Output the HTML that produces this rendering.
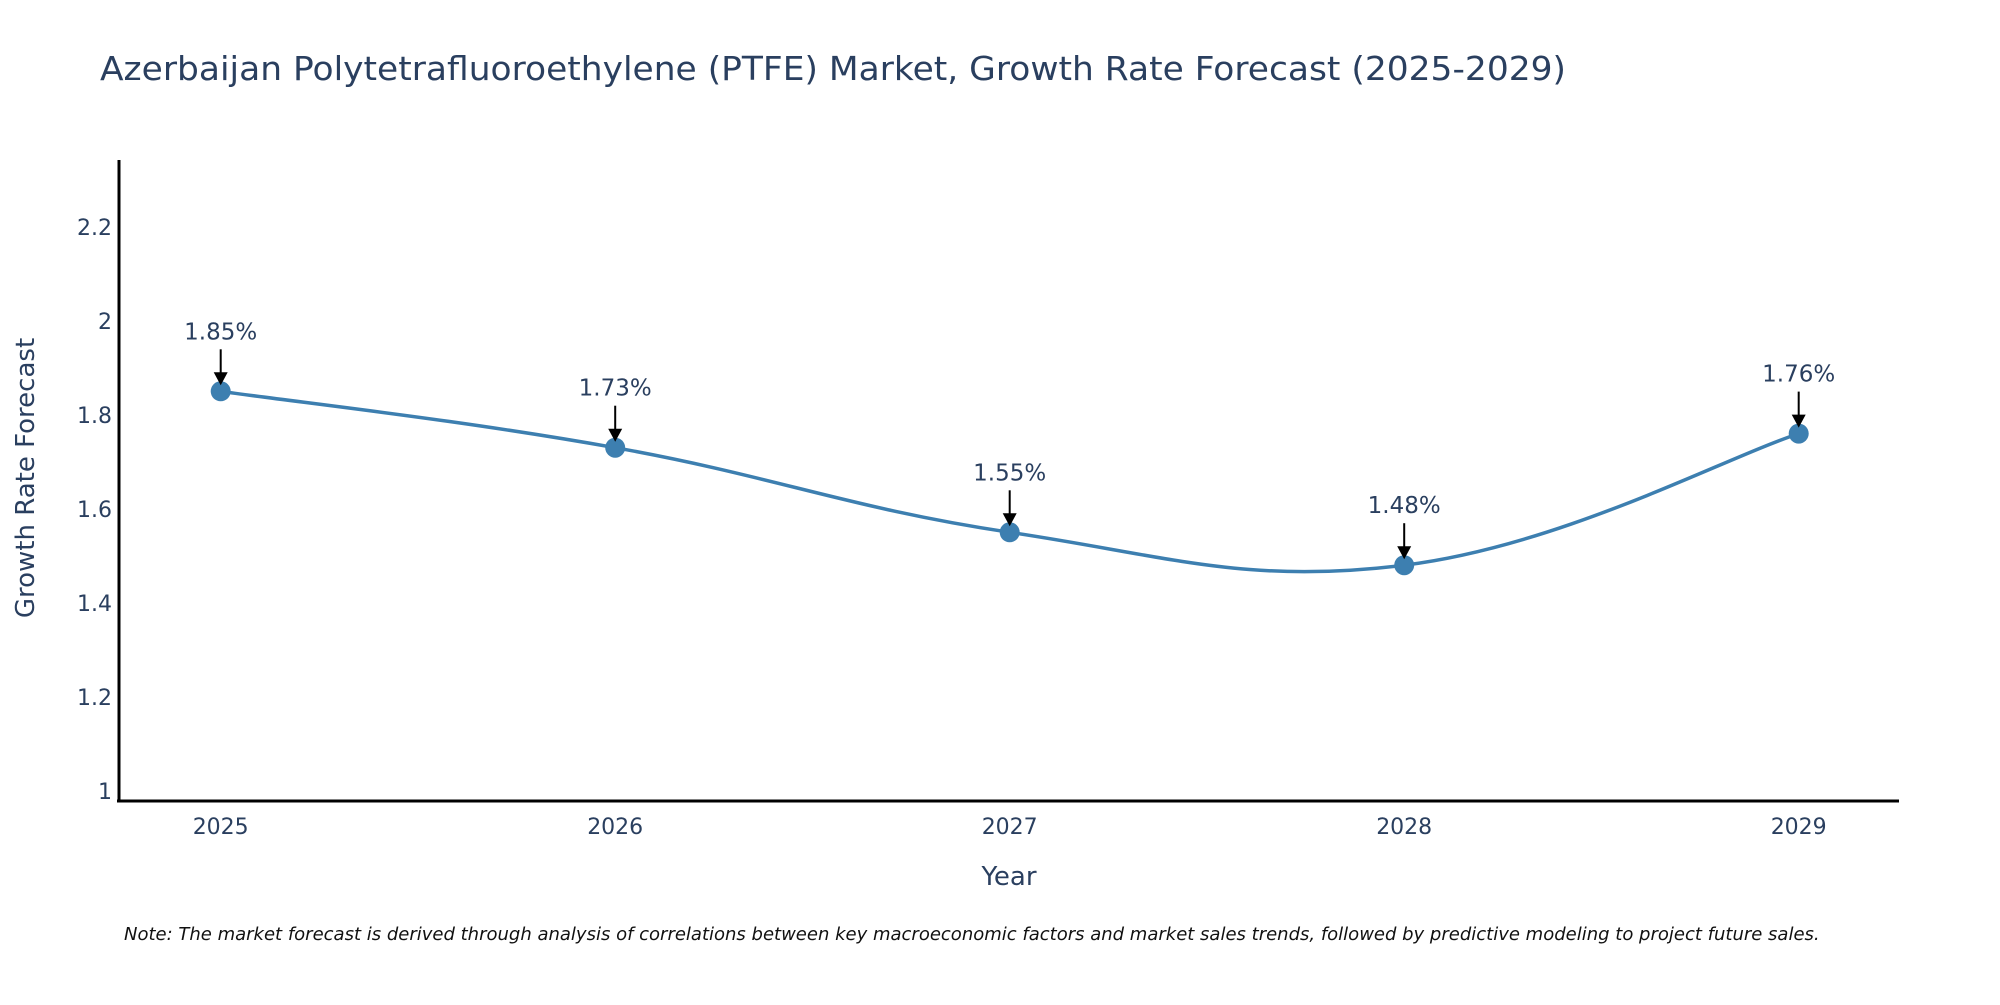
<!DOCTYPE html>
<html><head><meta charset="utf-8"><style>
body{margin:0;background:#fff;overflow:hidden}
svg text{font-family:"DejaVu Sans","Liberation Sans",sans-serif}
</style></head><body>
<svg id="chart" width="2000" height="1000" viewBox="0 0 2000 1000" xmlns="http://www.w3.org/2000/svg">
<rect width="2000" height="1000" fill="#fff"/>
<text x="100" y="80" font-size="33" fill="#2a3f5f" textLength="1466" lengthAdjust="spacingAndGlyphs">Azerbaijan Polytetrafluoroethylene (PTFE) Market, Growth Rate Forecast (2025-2029)</text>
<g id="yticks"></g>
<g id="xticks"></g>
<line x1="119" y1="160" x2="119" y2="802" stroke="#000" stroke-width="3"/>
<line x1="117" y1="801" x2="1899" y2="801" stroke="#000" stroke-width="3"/>
<text transform="translate(34,478) rotate(-90)" text-anchor="middle" font-size="26" fill="#2a3f5f">Growth Rate Forecast</text>
<text x="1009" y="885" text-anchor="middle" font-size="26" fill="#2a3f5f">Year</text>
<text x="124" y="940" font-size="18" font-style="italic" fill="#111">Note: The market forecast is derived through analysis of correlations between key macroeconomic factors and market sales trends, followed by predictive modeling to project future sales.</text>
<path id="line" fill="none" stroke="#3d7fb0" stroke-width="3.5"/>
<g id="marks"></g>
</svg>
<script>
const years=[2025,2026,2027,2028,2029];
const values=[1.85,1.73,1.55,1.48,1.76];
const labels=["1.85%","1.73%","1.55%","1.48%","1.76%"];
const yTicks=[1,1.2,1.4,1.6,1.8,2,2.2];
const NS="http://www.w3.org/2000/svg";
const xS=v=>220.7+(v-2025)*394.5;
const yS=v=>790.8-(v-1)*470;
function mk(t,a,p){const e=document.createElementNS(NS,t);for(const k in a)e.setAttribute(k,a[k]);(p||document.getElementById('chart')).appendChild(e);return e;}
const yt=document.getElementById('yticks');
yTicks.forEach(t=>{const e=mk('text',{x:112,y:yS(t)+8,'text-anchor':'end','font-size':22,fill:'#2a3f5f'},yt);


e.textContent=String(t);});
const xt=document.getElementById('xticks');
years.forEach(y=>{const e=mk('text',{x:xS(y),y:834,'text-anchor':'middle','font-size':22,fill:'#2a3f5f'},xt);


e.textContent=String(y);});
const P=years.map((y,i)=>[xS(y),yS(values[i])]);
let d=`M${P[0][0]},${P[0][1]}`;const s=0.2;
for(let i=0;i<P.length-1;i++){const p0=P[i-1]||P[i],p1=P[i],p2=P[i+1],p3=P[i+2]||p2;
d+=` C${p1[0]+(p2[0]-p0[0])*s},${p1[1]+(p2[1]-p0[1])*s} ${p2[0]-(p3[0]-p1[0])*s},${p2[1]-(p3[1]-p1[1])*s} ${p2[0]},${p2[1]}`;}
document.getElementById('line').setAttribute('d',d);
const g=document.getElementById('marks');
P.forEach((p,i)=>{const c=mk('circle',{cx:p[0],cy:p[1],r:10,fill:'#3d7fb0'},g);


const l=mk('line',{x1:p[0],y1:p[1]-42,x2:p[0],y2:p[1]-18,stroke:'#000','stroke-width':2},g);


const a=mk('polygon',{points:`${p[0]-7},${p[1]-19} ${p[0]+7},${p[1]-19} ${p[0]},${p[1]-6}`,fill:'#000'},g);


const t=mk('text',{x:p[0],y:p[1]-52,'text-anchor':'middle','font-size':23,fill:'#2a3f5f'},g);


t.textContent=labels[i];});
</script>
</body></html>
